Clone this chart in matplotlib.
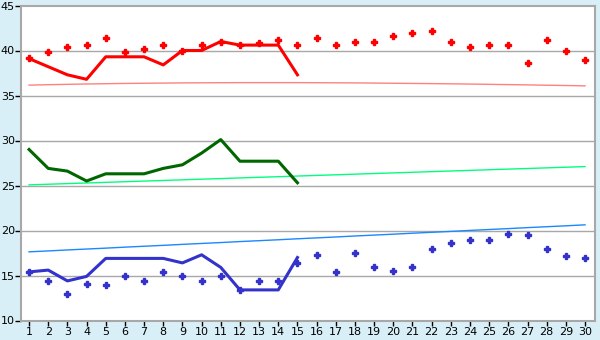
import matplotlib
matplotlib.use("Agg")
import matplotlib.pyplot as plt

days = list(range(1, 31))
days_line = list(range(1, 16))

red_points = [39.2, 39.8, 40.4, 40.6, 41.4, 39.8, 40.2, 40.6, 40.0, 40.6,
              41.0, 40.6, 40.8, 41.2, 40.6, 41.4, 40.6, 41.0, 41.0, 41.6,
              42.0, 42.2, 40.9, 40.4, 40.6, 40.6, 38.6, 41.2, 40.0, 39.0]
red_line = [39.1, 38.2, 37.3, 36.8, 39.3, 39.3, 39.3, 38.4, 40.0, 40.0,
            41.0, 40.6, 40.6, 40.6, 37.3]
red_trend = [36.15, 36.2, 36.24, 36.28, 36.31, 36.34, 36.36, 36.38, 36.4, 36.41,
             36.42, 36.43, 36.43, 36.43, 36.43, 36.42, 36.41, 36.4, 36.38, 36.36,
             36.34, 36.32, 36.3, 36.27, 36.24, 36.21, 36.18, 36.14, 36.11, 36.07]

green_line = [29.0, 26.9, 26.6, 25.5, 26.3, 26.3, 26.3, 26.9, 27.3, 28.6,
              30.1, 27.7, 27.7, 27.7, 25.3]
green_trend = [25.07, 25.14, 25.21, 25.28, 25.35, 25.42, 25.49, 25.56, 25.63, 25.7,
               25.77, 25.84, 25.91, 25.98, 26.05, 26.12, 26.19, 26.26, 26.33, 26.4,
               26.47, 26.54, 26.61, 26.68, 26.75, 26.82, 26.89, 26.96, 27.03, 27.1]

blue_points = [15.4, 14.4, 13.0, 14.1, 14.0, 15.0, 14.4, 15.4, 14.9, 14.4,
               15.0, 13.4, 14.4, 14.4, 16.4, 17.3, 15.4, 17.5, 16.0, 15.5,
               16.0, 17.9, 18.6, 19.0, 19.0, 19.6, 19.5, 18.0, 17.2, 17.0]
blue_line = [15.4, 15.6, 14.4, 14.9, 16.9, 16.9, 16.9, 16.9, 16.4, 17.3,
             15.9, 13.4, 13.4, 13.4, 17.0]
blue_trend = [17.63, 17.73, 17.84, 17.94, 18.04, 18.15, 18.25, 18.35, 18.46, 18.56,
              18.66, 18.77, 18.87, 18.97, 19.08, 19.18, 19.28, 19.39, 19.49, 19.59,
              19.7, 19.8, 19.9, 20.01, 20.11, 20.21, 20.32, 20.42, 20.52, 20.63]

y_ticks = [10, 15, 20, 25, 30, 35, 40, 45]

bg = "#d9eff7"
grid = "#a8a8a8"

fig = plt.figure(figsize=(6, 3.4), dpi=100, facecolor=bg)
ax = fig.add_axes([21 / 600, 19.5 / 340, 574 / 600, 315 / 340])
ax.set_facecolor("white")

for y in y_ticks[1:-1]:
    ax.axhline(y, color=grid, lw=1, zorder=1)

ax.plot(days, red_trend, color="#ff8080", lw=1, zorder=2)
ax.plot(days, green_trend, color="#00ff80", lw=1, zorder=2)
ax.plot(days, blue_trend, color="#1a88ff", lw=1, zorder=2)

ax.plot(days_line, red_line, color="#ff0000", lw=2.2, zorder=3)
ax.plot(days_line, green_line, color="#006600", lw=2.2, zorder=3)
ax.plot(days_line, blue_line, color="#3333cc", lw=2.2, zorder=3)

ax.plot(days, red_points, ls="none", marker="P", ms=4.5, color="#ff0000",
        mec="#ff0000", zorder=4)
ax.plot(days, blue_points, ls="none", marker="P", ms=4.5, color="#3333cc",
        mec="#3333cc", zorder=4)

ax.set_xlim(0.58, 30.52)
ax.set_ylim(10, 45)
ax.set_xticks(days)
ax.set_yticks(y_ticks)

for s in ax.spines.values():
    s.set_color(grid)
    s.set_linewidth(1.5)

ax.tick_params(axis="x", direction="out", length=3.5, width=1, color="black",
               labelsize=8, labelcolor="black", pad=1.5)
ax.tick_params(axis="y", direction="out", length=4, width=1, color="black",
               labelsize=8, labelcolor="black", pad=0.5)

fig.savefig("out.png", dpi=100, facecolor=bg)
